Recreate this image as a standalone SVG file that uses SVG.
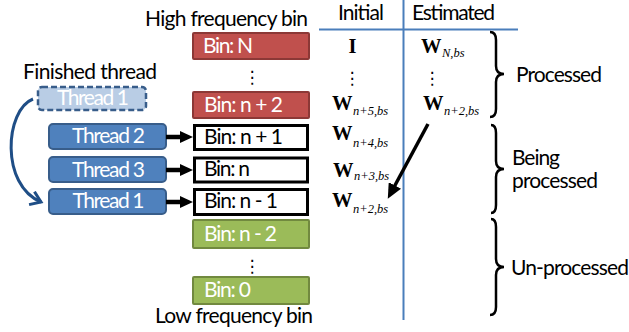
<svg xmlns="http://www.w3.org/2000/svg" width="629" height="332" viewBox="0 0 629 332">
<style>
.lbl{font-family:Lato,"Liberation Sans",sans-serif;font-size:21px;fill:#000}
.wt{font-family:Lato,"Liberation Sans",sans-serif;font-size:21px;fill:#fff}
.thr{fill:#4F81BD;stroke:#385D8A;stroke-width:2}
.thrd{fill:#B9CDE5;stroke:#385D8A;stroke-width:2.5;stroke-dasharray:6 3}
.red{fill:#C0504D;stroke:#8C3836;stroke-width:2}
.grn{fill:#9BBB59;stroke:#71893F;stroke-width:2}
.wht{fill:#fff;stroke:#000;stroke-width:3}
.dots{font-family:"DejaVu Sans",sans-serif;font-size:17px;fill:#000}
.W{font-family:"Liberation Serif",serif;font-weight:bold;font-size:20.5px;fill:#000}
.sub{font-family:"Liberation Serif",serif;font-style:italic;font-size:12.5px;fill:#000}
.blk{stroke:#000;stroke-width:4.5;fill:none}
.brace{stroke:#000;stroke-width:2.5;fill:none}
.grid{stroke:#4A7EBB;stroke-width:2}
</style>
<defs>
<marker id="ah" markerUnits="userSpaceOnUse" markerWidth="14" markerHeight="12" refX="3" refY="6" orient="auto">
<path d="M0,0 L13,6 L0,12 z" fill="#000"/>
</marker>
<marker id="ahd" markerUnits="userSpaceOnUse" markerWidth="16" markerHeight="14" refX="4" refY="7" orient="auto">
<path d="M0,0 L15,7 L0,14 z" fill="#000"/>
</marker>
<marker id="ahb" markerUnits="userSpaceOnUse" markerWidth="14" markerHeight="16" refX="11" refY="8" orient="auto">
<path d="M1,1 L11,8 L1,15" fill="none" stroke="#1F4E86" stroke-width="3" stroke-linejoin="miter"/>
</marker>
</defs>

<g id="grid">
<line class="grid" x1="319" y1="29.5" x2="518" y2="29.5"/>
<line class="grid" x1="403.5" y1="0" x2="403.5" y2="320"/>
</g>

<g id="headers">
<text class="lbl" x="145" y="26" textLength="163">High frequency bin</text>
<text class="lbl" x="155" y="323" textLength="158">Low frequency bin</text>
<text class="lbl" x="23" y="79" textLength="134">Finished thread</text>
<text class="lbl" x="338" y="20" textLength="46">Initial</text>
<text class="lbl" x="412" y="20" textLength="83">Estimated</text>
</g>

<g id="bin-N"><rect class="red" x="193" y="33" width="116" height="26" rx="1"/><text class="wt" x="203" y="53" textLength="50">Bin: N</text></g>
<text class="dots" x="252" y="83" text-anchor="middle">⋮</text>
<g id="bin-n2"><rect class="red" x="193" y="92" width="116" height="26" rx="1"/><text class="wt" x="204" y="112" textLength="79">Bin: n + 2</text></g>
<g id="bin-n1"><rect class="wht" x="194.5" y="125.5" width="113" height="24"/><text class="lbl" x="204" y="144" textLength="79">Bin: n + 1</text></g>
<g id="bin-n"><rect class="wht" x="194.5" y="158" width="113" height="24"/><text class="lbl" x="204" y="176" textLength="46">Bin: n</text></g>
<g id="bin-nm1"><rect class="wht" x="194.5" y="189.5" width="113" height="25"/><text class="lbl" x="204" y="208" textLength="74">Bin: n - 1</text></g>
<g id="bin-nm2"><rect class="grn" x="193" y="220" width="116" height="28" rx="1"/><text class="wt" x="204" y="241" textLength="73">Bin: n - 2</text></g>
<text class="dots" x="252" y="272" text-anchor="middle">⋮</text>
<g id="bin-0"><rect class="grn" x="193" y="277" width="116" height="27" rx="1"/><text class="wt" x="204" y="297" textLength="47">Bin: 0</text></g>

<g id="thread1-finished"><rect class="thrd" x="38" y="87" width="108" height="23" rx="4"/><text class="wt" x="93" y="105" text-anchor="middle" textLength="72">Thread 1</text></g>
<g id="thread2"><rect class="thr" x="49" y="124" width="117" height="25" rx="4"/><text class="wt" x="108.5" y="143" text-anchor="middle" textLength="73">Thread 2</text></g>
<g id="thread3"><rect class="thr" x="49" y="157" width="117" height="25" rx="4"/><text class="wt" x="108.5" y="177" text-anchor="middle" textLength="73">Thread 3</text></g>
<g id="thread1"><rect class="thr" x="49" y="189" width="117" height="25" rx="4"/><text class="wt" x="108.5" y="208" text-anchor="middle" textLength="72">Thread 1</text></g>

<g id="initial-col">
<text class="W" x="352.5" y="53" text-anchor="middle">I</text>
<text class="dots" x="352" y="84" text-anchor="middle">⋮</text>
<text class="W" x="332" y="110">W</text><text class="sub" x="353" y="115">n+5,bs</text>
<text class="W" x="332" y="140">W</text><text class="sub" x="353" y="147">n+4,bs</text>
<text class="W" x="333" y="177">W</text><text class="sub" x="354" y="180">n+3,bs</text>
<text class="W" x="332" y="207">W</text><text class="sub" x="353" y="213">n+2,bs</text>
</g>
<g id="estimated-col">
<text class="W" x="421" y="53">W</text><text class="sub" x="442" y="57">N,bs</text>
<text class="dots" x="432" y="84" text-anchor="middle">⋮</text>
<text class="W" x="423" y="110">W</text><text class="sub" x="444" y="115">n+2,bs</text>
</g>

<g id="braces">
<path class="brace" d="M490,32 Q496,32 496,40 L496,66 Q496,74 504,74 Q496,74 496,82 L496,109 Q496,117 490,117"/>
<text class="lbl" x="516" y="82" textLength="86">Processed</text>
<path class="brace" d="M491,125 Q496,125 496,133 L496,161 Q496,169 504,169 Q496,169 496,177 L496,205 Q496,213 491,213"/>
<text class="lbl" x="512" y="165" textLength="48">Being</text>
<text class="lbl" x="512" y="188" textLength="86">processed</text>
<path class="brace" d="M491,219 Q496,219 496,227 L496,259 Q496,267 504,267 Q496,267 496,275 L496,307 Q496,315 490,315"/>
<text class="lbl" x="511" y="275" textLength="118">Un-processed</text>
</g>

<g id="connectors">
<line class="blk" x1="166" y1="137" x2="183" y2="137" marker-end="url(#ah)"/>
<line class="blk" x1="166" y1="170" x2="183" y2="170" marker-end="url(#ah)"/>
<line class="blk" x1="166" y1="202" x2="183" y2="202" marker-end="url(#ah)"/>
<line stroke="#000" stroke-width="3.5" x1="428" y1="124" x2="393" y2="189" marker-end="url(#ahd)"/>
<path d="M33,99 C5,110 0,185 41,202" fill="none" stroke="#1F4E86" stroke-width="3" marker-end="url(#ahb)"/>
</g>
</svg>
